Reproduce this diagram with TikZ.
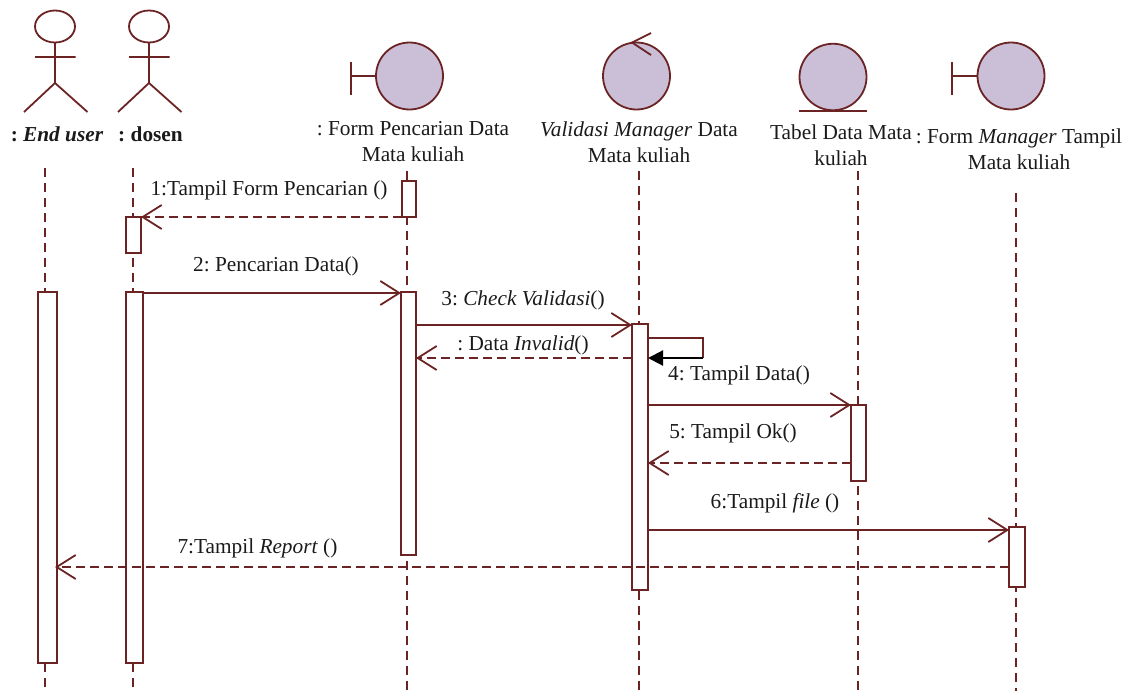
\documentclass[tikz,border=0pt]{standalone}
\usepackage{fontspec}
\setmainfont{Liberation Serif}
\usetikzlibrary{arrows.meta,shapes.geometric}
\definecolor{maroon}{HTML}{6B2323}
\definecolor{lilac}{HTML}{CBBFD8}
\definecolor{ink}{HTML}{1A1A1A}
\tikzset{
  fig/.style={draw=maroon,line width=1.8pt},
  life/.style={draw=maroon,line width=1.7pt,dash pattern=on 9pt off 6pt},
  actbar/.style={draw=maroon,line width=1.8pt,fill=white,rectangle,inner sep=0pt,outer sep=0pt},
  msg/.style={draw=maroon,line width=1.8pt,-{Straight Barb[length=19pt,width=24pt,line width=1.8pt]}},
  retmsg/.style={msg,dash pattern=on 9pt off 5pt},
  blob/.style={draw=maroon,line width=1.8pt,fill=lilac,ellipse,inner sep=0pt},
  txt/.style={text=ink,font=\fontsize{21.3}{25.8}\selectfont,align=center,inner sep=0pt},
  oneline/.style={txt,anchor=base},
  boldtxt/.style={oneline,font=\fontsize{21.3}{25.8}\selectfont\bfseries},
}
\newcommand{\actbar}[5]{\node[actbar,minimum width=#4pt-#2pt,minimum height=#5pt-#3pt] (#1) at ({(#2+#4)/2},{(#3+#5)/2}) {};}
\begin{document}
\frenchspacing
\begin{tikzpicture}[x=1pt,y=-1pt]
\useasboundingbox (0,0) rectangle (1143,691);
% lifelines
\foreach \n/\x/\s in {a/45/168,b/133/168,c/407/171,d/639/171,e/858/171,f/1016/193}{
  \coordinate (top\n) at (\x,\s); \coordinate (bot\n) at (\x,691);
  \draw[life] (top\n) -- (bot\n);
}
% actors
\draw[fig] (55,26.5) ellipse (20 and 16);
\draw[fig] (55,42.5) -- (55,83) (35,57) -- (75.5,57) (24,112) -- (55,83) -- (87.5,112);
\draw[fig] (149,26.5) ellipse (20 and 16);
\draw[fig] (149,42.5) -- (149,83) (129,57) -- (169.5,57) (118,112) -- (149,83) -- (181.5,112);
% boundary 1
\node[blob,minimum width=67pt,minimum height=67pt] (bd1) at (409.5,76) {};
\coordinate (bd1bar) at (351,76);
\draw[fig] (bd1.west) -- (bd1bar) (351,62) -- (351,95);
% control
\node[blob,minimum width=67pt,minimum height=67pt] (ctl) at (636.5,76) {};
\draw[fig] (651,33) -- (632,42.5) -- (651,55);
% entity
\node[blob,minimum width=67pt,minimum height=66.5pt] (ent) at (833,77) {};
\draw[fig] (799,111) -- (867,111);
% boundary 2
\node[blob,minimum width=67pt,minimum height=67pt] (bd2) at (1011,76) {};
\coordinate (bd2bar) at (952,76);
\draw[fig] (bd2.west) -- (bd2bar) (952,62) -- (952,95);
% labels
\node[boldtxt] (l1) at (57,141.7) {: \textit{End user}};
\node[boldtxt] (l2) at (150.5,141.7) {: dosen};
\node[txt] (l3) at (413,141.5) {: Form Pencarian Data\\Mata kuliah};
\node[txt] (l4) at (639,142) {\textit{Validasi Manager} Data\\Mata kuliah};
\node[txt] (l5) at (841,145) {Tabel Data Mata\\kuliah};
\node[txt] (l6) at (1019,149.5) {: Form \textit{Manager} Tampil\\Mata kuliah};
% activation bars
\actbar{fsmall}{402}{181}{416}{217}
\actbar{dsmall}{126}{217}{141}{253}
\actbar{ubig}{38}{292}{57}{663}
\actbar{dbig}{126}{292}{143}{663}
\actbar{fbig}{401}{292}{416}{555}
\actbar{vbig}{632}{324}{648}{590}
\actbar{tbar}{851}{405}{866}{481}
\actbar{mbar}{1009}{527}{1025}{587}
% messages
\draw[retmsg] (fsmall.south west) -- (dsmall.north east);
\coordinate (m2a) at (143,293); \coordinate (m2b) at (401,293);
\draw[msg] (m2a) -- (m2b);
\coordinate (m3a) at (416,325); \coordinate (m3b) at (632,325);
\draw[msg] (m3a) -- (m3b);
\coordinate (m4a) at (632,358); \coordinate (m4b) at (416,358);
\draw[retmsg] (m4a) -- (m4b);
\coordinate (s1) at (648,338); \coordinate (s2) at (703,338); \coordinate (s3) at (703,358); \coordinate (s4) at (648,358);
\draw[fig] (s1) -- (s2) -- (s3);
\draw[draw=black,line width=2.2pt,-{Triangle[length=15pt,width=15pt]}] (s3) -- (s4);
\coordinate (m5a) at (648,405); \coordinate (m5b) at (851,405);
\draw[msg] (m5a) -- (m5b);
\coordinate (m6a) at (851,463); \coordinate (m6b) at (648,463);
\draw[retmsg] (m6a) -- (m6b);
\coordinate (m7a) at (648,530); \coordinate (m7b) at (1009,530);
\draw[msg] (m7a) -- (m7b);
\coordinate (m8a) at (1009,567); \coordinate (m8b) at (55,567);
\draw[retmsg] (m8a) -- (m8b);
% message labels
\node[oneline] (t1) at (269,195) {1:Tampil Form Pencarian ()};
\node[oneline] (t2) at (276,271.5) {2: Pencarian Data()};
\node[oneline] (t3) at (523,305.7) {3: \textit{Check Validasi}()};
\node[oneline] (t4) at (523,350) {: Data \textit{Invalid}()};
\node[oneline] (t5) at (739,380) {4: Tampil Data()};
\node[oneline] (t6) at (733,438) {5: Tampil Ok()};
\node[oneline] (t7) at (775,508) {6:Tampil \textit{file} ()};
\node[oneline] (t8) at (257.5,553) {7:Tampil \textit{Report} ()};
\end{tikzpicture}
\end{document}
